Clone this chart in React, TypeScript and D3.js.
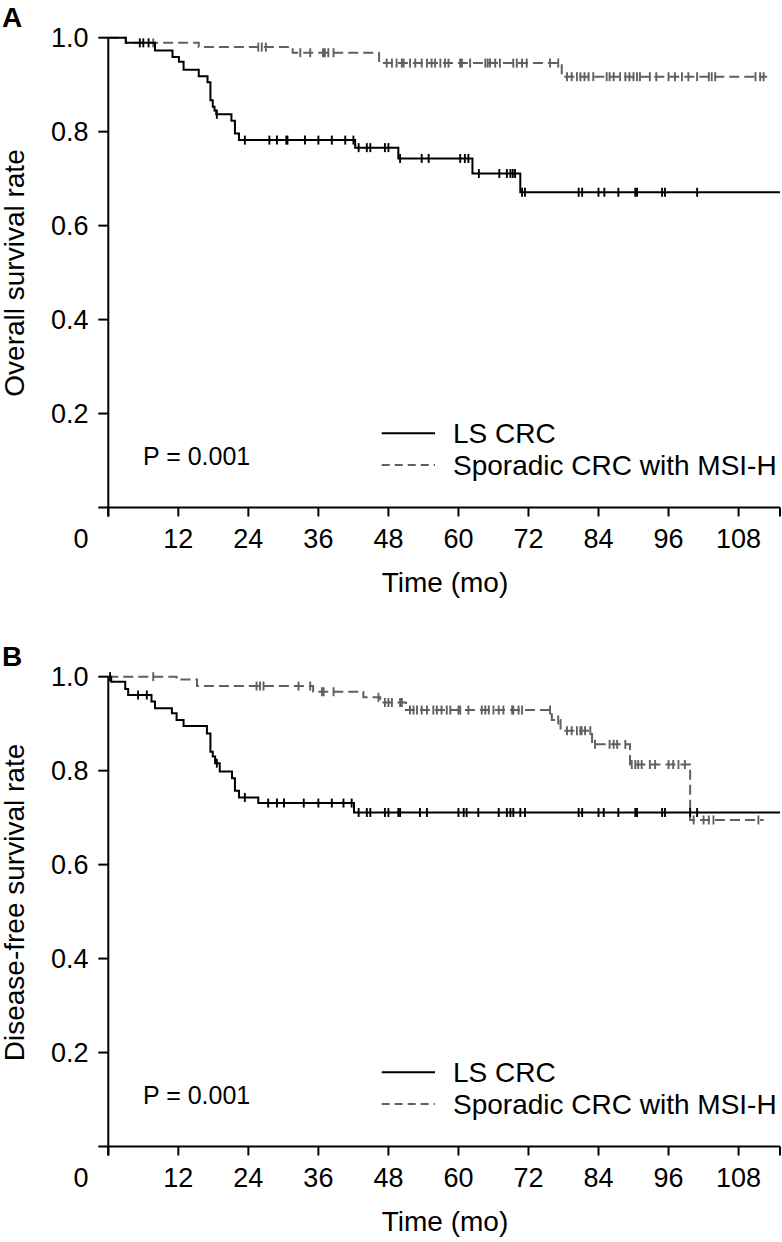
import React from "react";
import * as d3 from "d3";

// ---------- data ----------
const xTicks = [0, 12, 24, 36, 48, 60, 72, 84, 96, 108];
const yTicks = [0.2, 0.4, 0.6, 0.8, 1.0];
const xMax = 115.1;

// Panel A: overall survival
const aLsSteps: [number, number][] = [
  [0, 1], [3.0, 0.989], [8.0, 0.973], [11.0, 0.959], [12.1, 0.949], [12.9, 0.932],
  [15.5, 0.918], [17.0, 0.905], [17.5, 0.867], [17.9, 0.853], [18.2, 0.845], [18.5, 0.837],
  [21.1, 0.823], [21.7, 0.796], [22.4, 0.782], [42.3, 0.766], [49.7, 0.743], [62.4, 0.711],
  [70.6, 0.671], [115.1, 0.671],
];
const aLsCensor = [5.4, 6.0, 6.9, 18.6, 23.4, 27.6, 28.9, 30.5, 30.7, 33.7, 36.0, 38.3, 40.6, 42.0,
  42.9, 44.3, 44.9, 47.4, 48.0, 50.0, 53.7, 54.9, 60.3, 61.1, 61.7, 63.5, 67.0, 68.3, 68.9, 69.3,
  69.7, 70.9, 71.4, 80.6, 81.2, 84.0, 85.0, 87.4, 90.3, 90.6, 94.9, 95.4, 100.9];
const aSpSteps: [number, number][] = [
  [0, 1], [3.0, 0.989], [15.5, 0.98], [31.6, 0.968], [46.4, 0.946], [77.7, 0.917], [112.9, 0.917],
];
const aSpCensor = [7.7, 25.7, 26.3, 27.0, 32.9, 34.6, 36.8, 37.1, 37.7, 38.6, 47.7, 48.6, 49.4,
  50.3, 50.6, 51.7, 52.6, 53.7, 54.6, 55.4, 56.0, 56.9, 57.7, 58.3, 60.3, 60.6, 62.0, 64.6, 65.0,
  65.4, 66.3, 67.1, 69.4, 70.0, 70.9, 71.7, 75.7, 77.1, 78.6, 79.4, 80.3, 80.9, 81.6, 82.3, 83.1,
  85.4, 85.9, 86.6, 87.7, 88.6, 89.3, 90.0, 90.6, 91.1, 92.8, 93.9, 96.0, 97.1, 98.3, 99.4, 100.9,
  102.9, 103.4, 104.0, 110.9, 111.7, 112.3];

// Panel B: disease-free survival
const bLsSteps: [number, number][] = [
  [0, 1], [0.5, 0.989], [2.9, 0.974], [3.4, 0.961], [7.4, 0.947], [8.0, 0.933], [10.9, 0.922],
  [11.7, 0.908], [12.9, 0.895], [16.9, 0.879], [17.5, 0.84], [17.9, 0.83], [18.3, 0.816],
  [19.1, 0.798], [21.2, 0.784], [21.7, 0.757], [22.4, 0.743], [25.7, 0.731], [42.1, 0.711],
  [115.1, 0.711],
];
const bLsCensor = [0.3, 5.1, 6.6, 18.6, 23.4, 27.4, 28.9, 30.1, 33.5, 36.0, 38.3, 40.3, 41.7, 42.9,
  44.3, 44.9, 47.4, 48.0, 49.7, 50.0, 53.4, 54.6, 60.0, 60.9, 61.4, 63.4, 66.9, 68.3, 68.9, 69.4,
  70.6, 71.4, 80.6, 81.2, 84.0, 84.9, 87.4, 90.3, 90.6, 94.9, 95.4, 99.7, 100.9];
const bSpSteps: [number, number][] = [
  [0, 1], [11.7, 0.994], [15.2, 0.98], [35.1, 0.968], [43.7, 0.956], [46.6, 0.945], [51.0, 0.929],
  [76.0, 0.908], [77.5, 0.885], [82.9, 0.856], [89.4, 0.813], [99.7, 0.695], [112.3, 0.695],
];
const bSpCensor = [7.7, 25.4, 26.0, 26.6, 32.6, 34.6, 36.6, 36.9, 38.6, 46.3, 47.4, 48.0, 48.6,
  50.0, 50.3, 51.7, 52.3, 52.9, 53.7, 54.6, 55.7, 56.3, 57.1, 58.0, 58.6, 60.0, 60.3, 61.7, 64.0,
  64.6, 65.2, 66.0, 66.9, 67.7, 69.2, 69.4, 70.3, 70.9, 75.7, 77.1, 78.6, 79.4, 80.3, 80.9, 81.1,
  81.7, 82.6, 83.4, 85.9, 86.6, 87.2, 88.6, 89.7, 90.3, 90.8, 91.4, 92.8, 93.7, 96.0, 96.8, 97.7,
  98.8, 100.3, 102.0, 102.9, 103.7, 111.4];

const seriesNames = ["LS CRC", "Sporadic CRC with MSI-H"];
const panels = [
  { letter: "A", yLabel: "Overall survival rate", labelY: 273, ls: aLsSteps, lsC: aLsCensor, sp: aSpSteps, spC: aSpCensor },
  { letter: "B", yLabel: "Disease-free survival rate", labelY: 263.5, ls: bLsSteps, lsC: bLsCensor, sp: bSpSteps, spC: bSpCensor },
];

// ---------- style ----------
const FONT = "'Liberation Sans', Arial, Helvetica, sans-serif";
const BLACK = "#000";
const GRAY = "#606060";
const DASH = "10,5";
const PANEL_H = 639;

function survAt(steps: [number, number][], t: number) {
  let s = steps[0][1];
  for (const [tt, v] of steps) {
    if (tt <= t) s = v;
    else break;
  }
  return s;
}

function Panel({ p, offset }: { p: typeof panels[number]; offset: number }) {
  const x = d3.scaleLinear().domain([0, xMax]).range([108.3, 780]);
  const y = d3.scaleLinear().domain([0, 1]).range([507.5, 37.7]);
  const line = d3
    .line<[number, number]>()
    .x((d) => x(d[0]))
    .y((d) => y(d[1]))
    .curve(d3.curveStepAfter);
  const axisY0 = y(0);
  const tickLen = 9;

  const censor = (steps: [number, number][], times: number[], color: string) =>
    times.map((t, i) => {
      const cx = x(t);
      const cy = y(survAt(steps, t));
      return <line key={i} x1={cx} x2={cx} y1={cy - 4.5} y2={cy + 4.5} stroke={color} strokeWidth={1.9} />;
    });

  return (
    <g transform={`translate(0,${offset})`} fontFamily={FONT}>
      <text x={2} y={27} fontSize={28} fontWeight="bold">{p.letter}</text>
      {/* y axis */}
      <line x1={x(0)} x2={x(0)} y1={y(1)} y2={axisY0 + tickLen} stroke="#000" strokeWidth={2} />
      {yTicks.map((t) => (
        <g key={t}>
          <line x1={x(0) - 10} x2={x(0)} y1={y(t)} y2={y(t)} stroke="#000" strokeWidth={2} />
          <text x={88.5} y={y(t)} dy="0.36em" textAnchor="end" fontSize={27}>{t.toFixed(1)}</text>
        </g>
      ))}
      {/* x axis */}
      <line x1={x(0) - 10} x2={780} y1={axisY0} y2={axisY0} stroke="#000" strokeWidth={2} />
      {xTicks.map((t) => (
        <g key={t}>
          <line x1={x(t)} x2={x(t)} y1={axisY0} y2={axisY0 + tickLen} stroke="#000" strokeWidth={2} />
          <text
            x={t === 0 ? 88.5 : x(t)}
            y={548}
            textAnchor={t === 0 ? "end" : "middle"}
            fontSize={27}
          >
            {t}
          </text>
        </g>
      ))}
      <line x1={x(xMax)} x2={x(xMax)} y1={axisY0} y2={axisY0 + tickLen} stroke="#000" strokeWidth={2} />
      <text x={445} y={592} textAnchor="middle" fontSize={28}>Time (mo)</text>
      <text
        transform={`translate(24,${p.labelY}) rotate(-90)`}
        textAnchor="middle"
        fontSize={28}
      >
        {p.yLabel}
      </text>
      {/* curves */}
      <path d={line(p.sp) || ""} fill="none" stroke={GRAY} strokeWidth={2} strokeDasharray={DASH} />
      {censor(p.sp, p.spC, GRAY)}
      <path d={line(p.ls) || ""} fill="none" stroke={BLACK} strokeWidth={2} />
      {censor(p.ls, p.lsC, BLACK)}
      {/* p value */}
      <text x={143} y={465} fontSize={25}>P = 0.001</text>
      {/* legend */}
      <line x1={381.7} x2={435} y1={433.3} y2={433.3} stroke={BLACK} strokeWidth={2} />
      <text x={453} y={433.3} dy="0.35em" fontSize={28}>{seriesNames[0]}</text>
      <line x1={381.7} x2={435} y1={465} y2={465} stroke={GRAY} strokeWidth={2} strokeDasharray="8,5" />
      <text x={453} y={465} dy="0.35em" fontSize={28}>{seriesNames[1]}</text>
    </g>
  );
}

export default function App() {
  return (
    <svg
      width={782}
      height={1242}
      style={{ position: "absolute", left: 0, top: 0, background: "#fff" }}
    >
      <rect width={782} height={1242} fill="#fff" />
      {panels.map((p, i) => (
        <Panel key={p.letter} p={p} offset={i * PANEL_H} />
      ))}
    </svg>
  );
}
